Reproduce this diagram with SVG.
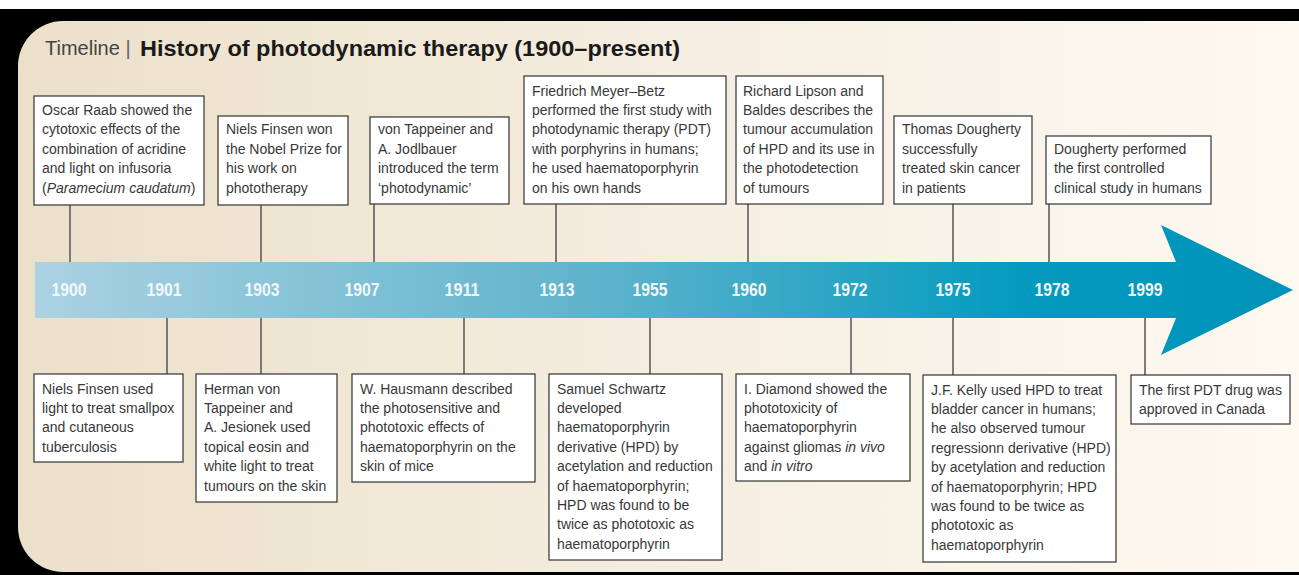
<svg xmlns="http://www.w3.org/2000/svg" width="1299" height="575" viewBox="0 0 1299 575">
<defs>
<linearGradient id="bg" x1="0" y1="0" x2="1" y2="0">
<stop offset="0" stop-color="#ebe0c9"/>
<stop offset="0.5" stop-color="#f5ede0"/>
<stop offset="1" stop-color="#fef9f1"/>
</linearGradient>
<linearGradient id="band" gradientUnits="userSpaceOnUse" x1="35" y1="0" x2="1293" y2="0">
<stop offset="0" stop-color="#abd2e2"/>
<stop offset="0.45" stop-color="#5eb3cc"/>
<stop offset="0.78" stop-color="#049bbf"/>
<stop offset="1" stop-color="#0092b9"/>
</linearGradient>
<style>
.box{fill:#fff;stroke:#333;stroke-width:1.2}
.ln{stroke:#555;stroke-width:1.5;fill:none}
.t{font-family:"Liberation Sans",Arial,sans-serif;font-size:14px;fill:#383838}
.yr{font-family:"Liberation Sans",Arial,sans-serif;font-weight:bold;font-size:19px;fill:#f2f8fa;text-anchor:middle}
.i{font-style:italic}
</style>
</defs>
<rect x="0" y="0" width="1299" height="575" fill="#fff"/>
<rect x="0" y="9" width="1299" height="566" fill="#000"/>
<path d="M63 21 H1299 V572 H63 A45 45 0 0 1 18 527 V66 A45 45 0 0 1 63 21 Z" fill="url(#bg)"/>
<g id="title">
<text x="45" y="55" font-family="'Liberation Sans',Arial,sans-serif" font-size="20" fill="#444">Timeline <tspan fill="#666">|</tspan></text>
<text x="140" y="56" font-family="'Liberation Sans',Arial,sans-serif" font-size="22" font-weight="bold" fill="#1a1a1a" textLength="540" lengthAdjust="spacingAndGlyphs">History of photodynamic therapy (1900–present)</text>
</g>
<g id="timeline-arrow">
<path d="M35 262 H1176 L1161 225 L1293 290 L1161 355 L1176 318 H35 Z" fill="url(#band)"/>
<text class="yr" x="69" y="296" textLength="35" lengthAdjust="spacingAndGlyphs">1900</text>
<text class="yr" x="164" y="296" textLength="35" lengthAdjust="spacingAndGlyphs">1901</text>
<text class="yr" x="262" y="296" textLength="35" lengthAdjust="spacingAndGlyphs">1903</text>
<text class="yr" x="362" y="296" textLength="35" lengthAdjust="spacingAndGlyphs">1907</text>
<text class="yr" x="462" y="296" textLength="35" lengthAdjust="spacingAndGlyphs">1911</text>
<text class="yr" x="557" y="296" textLength="35" lengthAdjust="spacingAndGlyphs">1913</text>
<text class="yr" x="650" y="296" textLength="35" lengthAdjust="spacingAndGlyphs">1955</text>
<text class="yr" x="749" y="296" textLength="35" lengthAdjust="spacingAndGlyphs">1960</text>
<text class="yr" x="850" y="296" textLength="35" lengthAdjust="spacingAndGlyphs">1972</text>
<text class="yr" x="953" y="296" textLength="35" lengthAdjust="spacingAndGlyphs">1975</text>
<text class="yr" x="1052" y="296" textLength="35" lengthAdjust="spacingAndGlyphs">1978</text>
<text class="yr" x="1145" y="296" textLength="35" lengthAdjust="spacingAndGlyphs">1999</text>
</g>
<g id="connectors">
<line class="ln" x1="70" y1="205" x2="70" y2="262"/>
<line class="ln" x1="261" y1="205" x2="261" y2="262"/>
<line class="ln" x1="374" y1="204" x2="374" y2="262"/>
<line class="ln" x1="556" y1="204" x2="556" y2="262"/>
<line class="ln" x1="748" y1="204" x2="748" y2="262"/>
<line class="ln" x1="953" y1="204" x2="953" y2="262"/>
<line class="ln" x1="1049" y1="204" x2="1049" y2="262"/>
<line class="ln" x1="167" y1="318" x2="167" y2="374"/>
<line class="ln" x1="261" y1="318" x2="261" y2="374"/>
<line class="ln" x1="464" y1="318" x2="464" y2="374"/>
<line class="ln" x1="650" y1="318" x2="650" y2="374"/>
<line class="ln" x1="851" y1="318" x2="851" y2="374"/>
<line class="ln" x1="953" y1="318" x2="953" y2="375"/>
<line class="ln" x1="1145" y1="318" x2="1145" y2="375"/>
</g>
<g id="n1900">
<rect class="box" x="34" y="96" width="170" height="109"/>
<text class="t" x="42" y="115">Oscar Raab showed the</text>
<text class="t" x="42" y="134.4">cytotoxic effects of the</text>
<text class="t" x="42" y="153.8">combination of acridine</text>
<text class="t" x="42" y="173.2">and light on infusoria</text>
<text class="t" x="42" y="192.6">(<tspan class="i">Paramecium caudatum</tspan>)</text>
</g>
<g id="n1903a">
<rect class="box" x="218" y="116" width="130" height="89"/>
<text class="t" x="226" y="134.4">Niels Finsen won</text>
<text class="t" x="226" y="153.8">the Nobel Prize for</text>
<text class="t" x="226" y="173.2">his work on</text>
<text class="t" x="226" y="192.6">phototherapy</text>
</g>
<g id="n1907">
<rect class="box" x="370" y="117" width="139" height="87"/>
<text class="t" x="378" y="134.4">von Tappeiner and</text>
<text class="t" x="378" y="153.8">A. Jodlbauer</text>
<text class="t" x="378" y="173.2">introduced the term</text>
<text class="t" x="378" y="192.6">‘photodynamic’</text>
</g>
<g id="n1913">
<rect class="box" x="524" y="76" width="202" height="128"/>
<text class="t" x="532" y="95.6">Friedrich Meyer–Betz</text>
<text class="t" x="532" y="115">performed the first study with</text>
<text class="t" x="532" y="134.4">photodynamic therapy (PDT)</text>
<text class="t" x="532" y="153.8">with porphyrins in humans;</text>
<text class="t" x="532" y="173.2">he used haematoporphyrin</text>
<text class="t" x="532" y="192.6">on his own hands</text>
</g>
<g id="n1960">
<rect class="box" x="736" y="76" width="147" height="128"/>
<text class="t" x="743" y="95.6">Richard Lipson and</text>
<text class="t" x="743" y="115">Baldes describes the</text>
<text class="t" x="743" y="134.4">tumour accumulation</text>
<text class="t" x="743" y="153.8">of HPD and its use in</text>
<text class="t" x="743" y="173.2">the photodetection</text>
<text class="t" x="743" y="192.6">of tumours</text>
</g>
<g id="n1975a">
<rect class="box" x="894" y="116" width="138" height="88"/>
<text class="t" x="902" y="134.4">Thomas Dougherty</text>
<text class="t" x="902" y="153.8">successfully</text>
<text class="t" x="902" y="173.2">treated skin cancer</text>
<text class="t" x="902" y="192.6">in patients</text>
</g>
<g id="n1978">
<rect class="box" x="1046" y="136" width="165" height="68"/>
<text class="t" x="1054" y="153.8">Dougherty performed</text>
<text class="t" x="1054" y="173.2">the first controlled</text>
<text class="t" x="1054" y="192.6">clinical study in humans</text>
</g>
<g id="n1901">
<rect class="box" x="34" y="374" width="149" height="88"/>
<text class="t" x="42" y="393.5">Niels Finsen used</text>
<text class="t" x="42" y="412.9">light to treat smallpox</text>
<text class="t" x="42" y="432.3">and cutaneous</text>
<text class="t" x="42" y="451.7">tuberculosis</text>
</g>
<g id="n1903b">
<rect class="box" x="196" y="374" width="141" height="128"/>
<text class="t" x="204" y="393.5">Herman von</text>
<text class="t" x="204" y="412.9">Tappeiner and</text>
<text class="t" x="204" y="432.3">A. Jesionek used</text>
<text class="t" x="204" y="451.7">topical eosin and</text>
<text class="t" x="204" y="471.1">white light to treat</text>
<text class="t" x="204" y="490.5">tumours on the skin</text>
</g>
<g id="n1911">
<rect class="box" x="352" y="374" width="183" height="108"/>
<text class="t" x="360" y="393.5">W. Hausmann described</text>
<text class="t" x="360" y="412.9">the photosensitive and</text>
<text class="t" x="360" y="432.3">phototoxic effects of</text>
<text class="t" x="360" y="451.7">haematoporphyrin on the</text>
<text class="t" x="360" y="471.1">skin of mice</text>
</g>
<g id="n1955">
<rect class="box" x="549" y="374" width="173" height="186"/>
<text class="t" x="557" y="393.5">Samuel Schwartz</text>
<text class="t" x="557" y="412.9">developed</text>
<text class="t" x="557" y="432.3">haematoporphyrin</text>
<text class="t" x="557" y="451.7">derivative (HPD) by</text>
<text class="t" x="557" y="471.1">acetylation and reduction</text>
<text class="t" x="557" y="490.5">of haematoporphyrin;</text>
<text class="t" x="557" y="509.9">HPD was found to be</text>
<text class="t" x="557" y="529.3">twice as phototoxic as</text>
<text class="t" x="557" y="548.7">haematoporphyrin</text>
</g>
<g id="n1972">
<rect class="box" x="736" y="374" width="174" height="107"/>
<text class="t" x="744" y="393.5">I. Diamond showed the</text>
<text class="t" x="744" y="412.9">phototoxicity of</text>
<text class="t" x="744" y="432.3">haematoporphyrin</text>
<text class="t" x="744" y="451.7">against gliomas <tspan class="i">in vivo</tspan></text>
<text class="t" x="744" y="471.1">and <tspan class="i">in vitro</tspan></text>
</g>
<g id="n1975b">
<rect class="box" x="923" y="375" width="193" height="187"/>
<text class="t" x="931" y="394.5">J.F. Kelly used HPD to treat</text>
<text class="t" x="931" y="413.9">bladder cancer in humans;</text>
<text class="t" x="931" y="433.3">he also observed tumour</text>
<text class="t" x="931" y="452.7">regressionn derivative (HPD)</text>
<text class="t" x="931" y="472.1">by acetylation and reduction</text>
<text class="t" x="931" y="491.5">of haematoporphyrin; HPD</text>
<text class="t" x="931" y="510.9">was found to be twice as</text>
<text class="t" x="931" y="530.3">phototoxic as</text>
<text class="t" x="931" y="549.7">haematoporphyrin</text>
</g>
<g id="n1999">
<rect class="box" x="1131" y="375" width="159" height="49"/>
<text class="t" x="1139" y="394.5">The first PDT drug was</text>
<text class="t" x="1139" y="413.9">approved in Canada</text>
</g>
</svg>
